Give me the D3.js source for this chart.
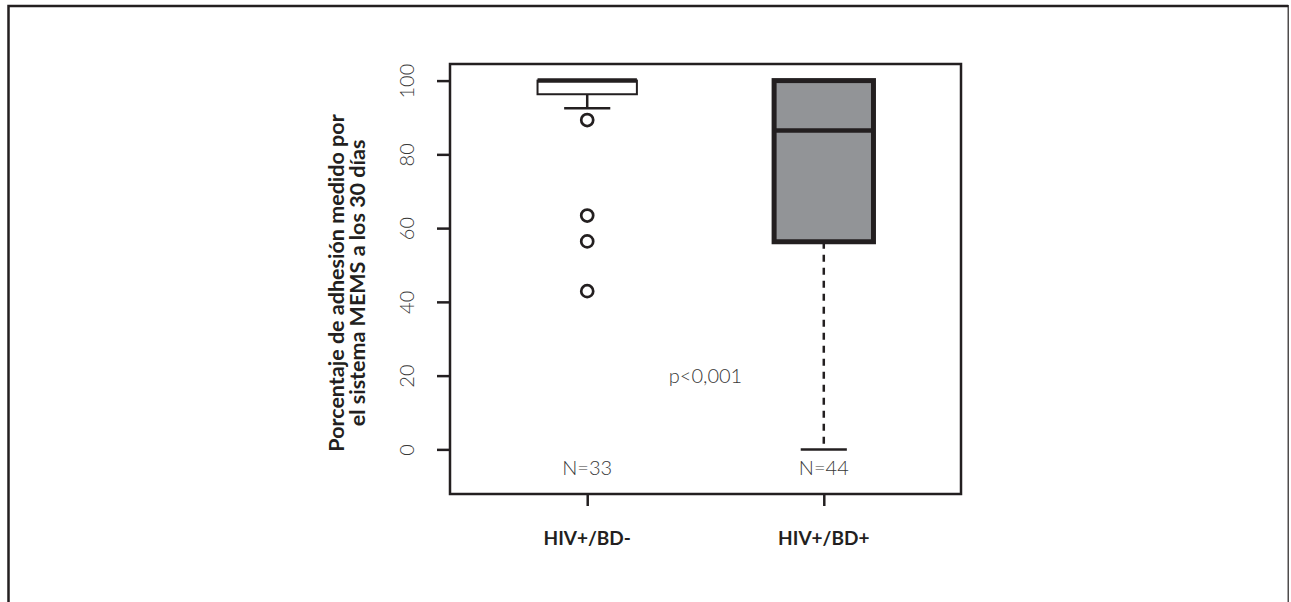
<!DOCTYPE html>
<html>
<head>
<meta charset="utf-8">
<script src="https://cdn.jsdelivr.net/npm/d3@7"></script>
<style>
  html, body { margin: 0; padding: 0; background: #fff; }
  svg { display: block; }
  text { font-family: Lato, sans-serif; }
</style>
</head>
<body>
<svg id="chart" width="1291" height="602"></svg>
<script>
// Adherence (%) measured by MEMS at 30 days, by group
const categories = ["HIV+/BD-", "HIV+/BD+"];
const counts = [33, 44];
const lowerWhisker = [92.5, 0];
const q1 = [96.3, 56.3];
const median = [100, 86.5];
const q3 = [100, 100];
const upperWhisker = [100, 100];
const outliers = [[89.3, 63.4, 56.4, 42.9], []];
const yTicks = [0, 20, 40, 60, 80, 100];
const pLabel = "p<0,001";
const yTitle = ["Porcentaje de adhesión medido por", "el sistema MEMS a los 30 días"];

const ink = "#231f20";
const lightInk = "#383838";
const boxFill = ["#ffffff", "#929497"];
const boxStroke = [2, 5];
const whiskerDash = [null, "7,6"];

const svg = d3.select("#chart");

// outer frame (open at the bottom)
svg.append("path")
  .attr("d", "M8.5,602 V6 H1288.2")
  .attr("fill", "none").attr("stroke", ink).attr("stroke-width", 2.5);
svg.append("line")
  .attr("x1", 1288.2).attr("x2", 1288.2).attr("y1", 5).attr("y2", 602)
  .attr("stroke", ink).attr("stroke-width", 1.2);

const plot = { left: 450, right: 961, top: 64, bottom: 494 };

const x = d3.scalePoint().domain(categories)
  .range([plot.left, plot.right]).padding(0.58);
const y = d3.scaleLinear().domain([-12.1, 104.5])
  .range([plot.bottom, plot.top]);

const boxW = x.step() * 0.42;
const capW = x.step() * 0.195;

// plot frame
svg.append("rect")
  .attr("x", plot.left).attr("y", plot.top)
  .attr("width", plot.right - plot.left).attr("height", plot.bottom - plot.top)
  .attr("fill", "none").attr("stroke", ink).attr("stroke-width", 2.5);

// y axis
const yAxis = svg.append("g")
  .attr("transform", `translate(${plot.left},0)`)
  .call(d3.axisLeft(y).tickValues(yTicks).tickSize(13).tickFormat(d3.format("d")));
yAxis.select(".domain").remove();
yAxis.selectAll(".tick line").attr("stroke", ink).attr("stroke-width", 2.5);
yAxis.selectAll(".tick text")
  .attr("x", null).attr("dy", null)
  .attr("text-anchor", "middle")
  .attr("transform", "translate(-36,0) rotate(-90)")
  .attr("font-size", 20).attr("font-weight", 300)
  .attr("font-family", "Lato, sans-serif")
  .attr("fill", lightInk);

// x axis
const xAxis = svg.append("g")
  .attr("transform", `translate(0,${plot.bottom})`)
  .call(d3.axisBottom(x).tickSize(12).tickFormat(""));
xAxis.select(".domain").remove();
xAxis.selectAll(".tick line").attr("stroke", ink).attr("stroke-width", 2.5);

// category labels
svg.append("g").selectAll("text").data(categories).join("text")
  .attr("x", d => x(d)).attr("y", 545)
  .attr("text-anchor", "middle")
  .attr("font-size", 19).attr("font-weight", 700)
  .attr("fill", ink)
  .text(d => d);

// y axis title
const titleG = svg.append("g")
  .attr("transform", `translate(0,${283})`);
titleG.selectAll("text").data(yTitle).join("text")
  .attr("transform", (d, i) => `translate(${343.5 + i * 21.5},0) rotate(-90)`)
  .attr("text-anchor", "middle")
  .attr("font-size", 21.5).attr("font-weight", 700)
  .attr("fill", ink)
  .text(d => d);

// boxplots
const groups = svg.append("g").selectAll("g").data(categories).join("g");

groups.each(function (cat, i) {
  const g = d3.select(this);
  const cx = x(cat);

  // whiskers
  g.append("line")
    .attr("x1", cx).attr("x2", cx)
    .attr("y1", y(q1[i])).attr("y2", y(lowerWhisker[i]))
    .attr("stroke", ink).attr("stroke-width", 2.5)
    .attr("stroke-dasharray", whiskerDash[i]);
  g.append("line")
    .attr("x1", cx).attr("x2", cx)
    .attr("y1", y(q3[i])).attr("y2", y(upperWhisker[i]))
    .attr("stroke", ink).attr("stroke-width", 2.5);
  // lower cap
  g.append("line")
    .attr("x1", cx - capW / 2).attr("x2", cx + capW / 2)
    .attr("y1", y(lowerWhisker[i])).attr("y2", y(lowerWhisker[i]))
    .attr("stroke", ink).attr("stroke-width", 2.5);

  // box
  g.append("rect")
    .attr("x", cx - boxW / 2).attr("width", boxW)
    .attr("y", y(q3[i])).attr("height", y(q1[i]) - y(q3[i]))
    .attr("fill", boxFill[i])
    .attr("stroke", ink).attr("stroke-width", boxStroke[i]);

  // median
  g.append("line")
    .attr("x1", cx - boxW / 2).attr("x2", cx + boxW / 2)
    .attr("y1", y(median[i])).attr("y2", y(median[i]))
    .attr("stroke", ink).attr("stroke-width", 4.5);

  // outliers
  g.selectAll("circle").data(outliers[i]).join("circle")
    .attr("cx", cx).attr("cy", d => y(d)).attr("r", 6)
    .attr("fill", "none").attr("stroke", ink).attr("stroke-width", 2.7);

  // sample size
  g.append("text")
    .attr("x", cx).attr("y", y(-5) + 7.3)
    .attr("text-anchor", "middle")
    .attr("font-size", 20).attr("font-weight", 300)
    .attr("fill", lightInk)
    .text(`N=${counts[i]}`);
});

// test result
svg.append("text")
  .attr("x", (x(categories[0]) + x(categories[1])) / 2)
  .attr("y", y(20) + 7.2)
  .attr("text-anchor", "middle")
  .attr("font-size", 20).attr("font-weight", 300)
  .attr("fill", lightInk)
  .text(pLabel);
</script>
</body>
</html>
